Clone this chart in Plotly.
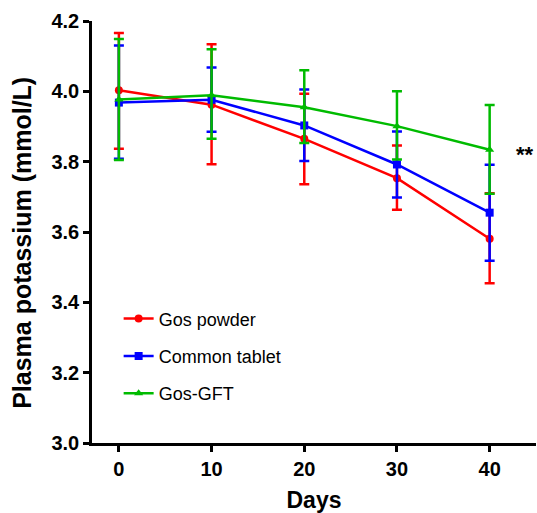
import plotly.graph_objects as go

days = [0, 10, 20, 30, 40]

names = ["Gos powder", "Common tablet", "Gos-GFT"]
colors = ["#ff0000", "#0000ff", "#00bb00"]
symbols = ["circle", "square", "triangle-up"]

powder_mean = [4.003, 3.962, 3.865, 3.753, 3.581]
powder_upper = [4.166, 4.134, 3.993, 3.846, 3.710]
powder_lower = [3.837, 3.793, 3.736, 3.663, 3.454]

tablet_mean = [3.968, 3.976, 3.903, 3.792, 3.655]
tablet_upper = [4.130, 4.068, 4.005, 3.886, 3.791]
tablet_lower = [3.808, 3.885, 3.802, 3.698, 3.518]

gft_mean = [3.977, 3.989, 3.955, 3.901, 3.834]
gft_upper = [4.149, 4.120, 4.060, 4.000, 3.961]
gft_lower = [3.805, 3.865, 3.853, 3.806, 3.709]

series = [
    (powder_mean, powder_upper, powder_lower),
    (tablet_mean, tablet_upper, tablet_lower),
    (gft_mean, gft_upper, gft_lower),
]

fig = go.Figure()
for i, (m, up, lo) in enumerate(series):
    fig.add_trace(go.Scatter(
        x=days, y=m, name=names[i], mode="lines+markers",
        legendgroup=f"g{i}",
        line=dict(color=colors[i], width=2.5),
        marker=dict(color=colors[i], symbol=symbols[i], size=8),
        error_y=dict(type="data", symmetric=False,
                     array=[u - v for u, v in zip(up, m)],
                     arrayminus=[v - l for v, l in zip(m, lo)],
                     color=colors[i], thickness=2.5, width=5),
    ))

fig.add_annotation(x=43.8, y=3.82, xref="x", yref="y", text="<b>**</b>",
                   showarrow=False, font=dict(size=22, color="black",
                                              family="Liberation Sans, Arial"))

fig.add_annotation(x=-0.158, y=0.474, xref="paper", yref="paper",
                   text="Plasma potassium (mmol/L)", textangle=-90,
                   showarrow=False, xanchor="center", yanchor="middle",
                   font=dict(size=25, weight="bold", color="black",
                             family="Liberation Sans, Arial"))

fig.update_layout(
    width=537, height=513,
    margin=dict(l=92, r=1, t=21, b=68),
    paper_bgcolor="white", plot_bgcolor="white",
    font=dict(family="Liberation Sans, Arial", color="black"),
    showlegend=True,
    legend=dict(x=0.06, y=0.338, xanchor="left", yanchor="top",
                font=dict(size=18, color="black"), tracegroupgap=11,
                bgcolor="rgba(0,0,0,0)", itemwidth=30),
    xaxis=dict(range=[-2.9, 45], tickvals=days, ticks="outside", ticklen=6,
               tickwidth=2.5, tickcolor="black", showline=True, linewidth=2.5,
               linecolor="black", showgrid=False, zeroline=False,
               tickfont=dict(size=20, weight="bold"),
               title=dict(text="Days", font=dict(size=23, weight="bold"),
                          standoff=16)),
    yaxis=dict(range=[3.0, 4.2], tickvals=[3.0, 3.2, 3.4, 3.6, 3.8, 4.0, 4.2],
               ticktext=["3.0", "3.2", "3.4", "3.6", "3.8", "4.0", "4.2"],
               ticks="outside", ticklen=6, tickwidth=2.5, tickcolor="black",
               showline=True, linewidth=2.5, linecolor="black",
               showgrid=False, zeroline=False,
               tickfont=dict(size=20, weight="bold")),
)

fig.write_html("out.html")
